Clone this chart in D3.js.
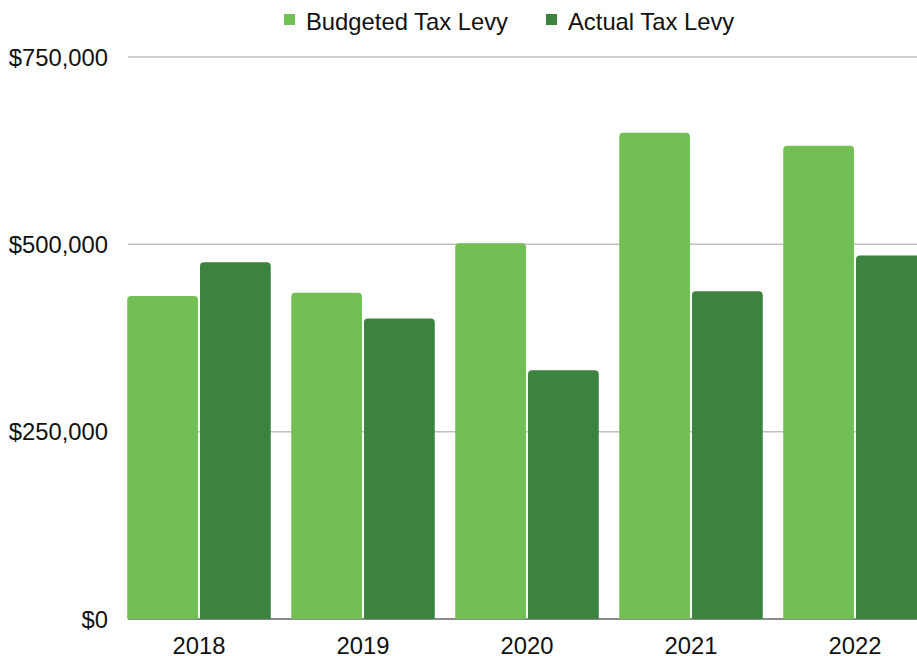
<!DOCTYPE html>
<html>
<head>
<meta charset="utf-8">
<script src="https://cdn.jsdelivr.net/npm/d3@7"></script>
<style>
  html, body { margin: 0; padding: 0; background: #fff; }
  svg { display: block; font-family: "Liberation Sans", Arial, sans-serif; }
</style>
</head>
<body>
<script>
// chart data
var years = ["2018", "2019", "2020", "2021", "2022"];
var seriesNames = ["Budgeted Tax Levy", "Actual Tax Levy"];
var budgeted = [431000, 435500, 501500, 649000, 631500];
var actual = [476000, 401000, 332000, 437500, 485000];
var yTicks = [0, 250000, 500000, 750000];

var w = 917, h = 656;
var colors = ["#71bf55", "#3c833f"];
var fontSize = "23.8px";

var svg = d3.select("body").append("svg")
    .attr("width", w)
    .attr("height", h);

// scales
var y = d3.scaleLinear().domain([0, 750000]).range([619, 57]);
var x = d3.scaleBand().domain(years).range([117, 937])
    .paddingInner(0.125).paddingOuter(0.0625);
var xInner = d3.scaleBand().domain(seriesNames).range([0, x.bandwidth()]).paddingInner(0.028);

var fmt = function(v) { return "$" + d3.format(",")(v); };

// gridlines + y labels
svg.append("g").selectAll("line")
    .data(yTicks.filter(function(d) { return d > 0; }))
    .enter().append("line")
    .attr("x1", 128).attr("x2", w)
    .attr("y1", function(d) { return y(d); })
    .attr("y2", function(d) { return y(d); })
    .style("stroke", "#c0c0c0")
    .style("stroke-width", 1.5);

svg.append("g").selectAll("text")
    .data(yTicks)
    .enter().append("text")
    .attr("x", 108)
    .attr("y", function(d) { return y(d) + 8.5; })
    .attr("text-anchor", "end")
    .attr("font-size", fontSize)
    .attr("fill", "#111")
    .text(fmt);

// baseline
svg.append("line")
    .attr("x1", 128).attr("x2", w)
    .attr("y1", y(0)).attr("y2", y(0))
    .style("stroke", "#666")
    .style("stroke-width", 1.5);

// bars, rounded top corners
function barPath(x0, bw, top, bottom) {
    var r = Math.min(4, bw / 2, bottom - top);
    return "M" + x0 + "," + bottom +
        "V" + (top + r) +
        "Q" + x0 + "," + top + " " + (x0 + r) + "," + top +
        "H" + (x0 + bw - r) +
        "Q" + (x0 + bw) + "," + top + " " + (x0 + bw) + "," + (top + r) +
        "V" + bottom + "Z";
}

var rows = years.map(function(yr, i) {
    return { year: yr, vals: [budgeted[i], actual[i]] };
});

var groups = svg.append("g").selectAll("g")
    .data(rows)
    .enter().append("g")
    .attr("transform", function(d) { return "translate(" + x(d.year) + ",0)"; });

groups.selectAll("path")
    .data(function(d) { return d.vals.map(function(v, k) { return { key: seriesNames[k], v: v, k: k }; }); })
    .enter().append("path")
    .attr("d", function(d) { return barPath(xInner(d.key), xInner.bandwidth(), y(d.v), y(0)); })
    .style("fill", function(d) { return colors[d.k]; });

// x labels
svg.append("g").selectAll("text")
    .data(years)
    .enter().append("text")
    .attr("x", function(d) { return x(d) + x.bandwidth() / 2; })
    .attr("y", 654)
    .attr("text-anchor", "middle")
    .attr("font-size", fontSize)
    .attr("fill", "#111")
    .text(function(d) { return d; });

// legend
var legendX = [284, 546];
var legend = svg.append("g").selectAll("g")
    .data(seriesNames)
    .enter().append("g")
    .attr("transform", function(d, i) { return "translate(" + legendX[i] + ",0)"; });

legend.append("rect")
    .attr("x", 0).attr("y", 14)
    .attr("width", 11).attr("height", 11)
    .style("fill", function(d, i) { return colors[i]; });

legend.append("text")
    .attr("x", 22).attr("y", 29.5)
    .attr("font-size", fontSize)
    .attr("fill", "#111")
    .text(function(d) { return d; });
</script>
</body>
</html>
